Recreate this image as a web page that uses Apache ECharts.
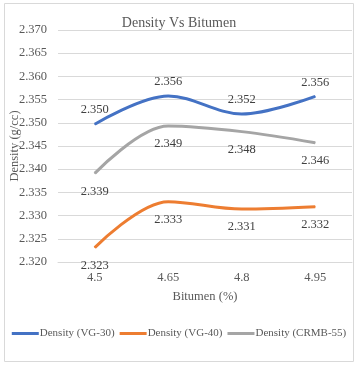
<!DOCTYPE html>
<html><head><meta charset="utf-8">
<script src="https://cdn.jsdelivr.net/npm/echarts@6/dist/echarts.min.js"></script>
<style>html,body{margin:0;padding:0;background:#fff}#c{width:358px;height:366px}</style>
</head><body><div id="c"></div>
<script>
const categories = ['4.5', '4.65', '4.8', '4.95'];
const vg30 = [2.3497, 2.3558, 2.3519, 2.3557];
const vg40 = [2.3231, 2.3330, 2.3314, 2.3319];
const crmb55 = [2.3391, 2.3493, 2.3481, 2.3457];
const seriesNames = ['Density (VG-30)', 'Density (VG-40)', 'Density (CRMB-55)'];
const yMin = 2.32, yMax = 2.37, yStep = 0.005;

const font = 'Liberation Serif';
const txt = '#595959';
function mk(name, data, color, pos, dist) {
  return {
    name, type: 'line', data, smooth: 0.35, symbol: 'circle', symbolSize: 1, showSymbol: true,
    lineStyle: { color, width: 3 }, itemStyle: { color },
    label: { show: true, position: pos, distance: dist, fontFamily: font, fontSize: 12.5, color: '#404040',
      formatter: p => p.value.toFixed(3) }
  };
}
const chart = echarts.init(document.getElementById('c'));
chart.setOption({
  animation: false,
  graphic: [{ type: 'rect', shape: { x: 4.5, y: 3.5, width: 349, height: 358 },
    style: { fill: 'none', stroke: '#d9d9d9', lineWidth: 1 } }],
  title: { text: 'Density Vs Bitumen', left: 'center', top: 11,
    textStyle: { fontFamily: font, fontSize: 14, fontWeight: 'normal', color: txt } },
  grid: { left: 58, right: 6, top: 30, bottom: 104, containLabel: false, outerBoundsMode: 'none' },
  legend: { top: 323, left: 'center', width: 350, itemWidth: 27, itemHeight: 3, itemGap: 5,
    icon: 'rect', data: seriesNames,
    textStyle: { fontFamily: font, fontSize: 11, color: txt, padding: [0, 0, 0, -4] } },
  xAxis: { type: 'category', data: categories, boundaryGap: true,
    name: 'Bitumen (%)', nameLocation: 'middle', nameGap: 28, nameMoveOverlap: false,
    nameTextStyle: { fontFamily: font, fontSize: 12.5, color: txt },
    axisLine: { lineStyle: { color: '#d9d9d9' } }, axisTick: { show: false },
    axisLabel: { fontFamily: font, fontSize: 12.5, color: txt, margin: 9 } },
  yAxis: { type: 'value', min: yMin, max: yMax, interval: yStep,
    name: 'Density (g/cc)', nameLocation: 'middle', nameGap: 37, nameMoveOverlap: false,
    nameTextStyle: { fontFamily: font, fontSize: 12.5, color: txt },
    axisLine: { show: false }, axisTick: { show: false },
    splitLine: { lineStyle: { color: '#d9d9d9' } },
    axisLabel: { fontFamily: font, fontSize: 12.5, color: txt, margin: 11, formatter: v => v.toFixed(3) } },
  series: [
    mk(seriesNames[0], vg30, '#4472C4', 'top', 7),
    mk(seriesNames[1], vg40, '#ED7D31', 'bottom', 11),
    mk(seriesNames[2], crmb55, '#A5A5A5', 'bottom', 11)
  ]
});
</script></body></html>
